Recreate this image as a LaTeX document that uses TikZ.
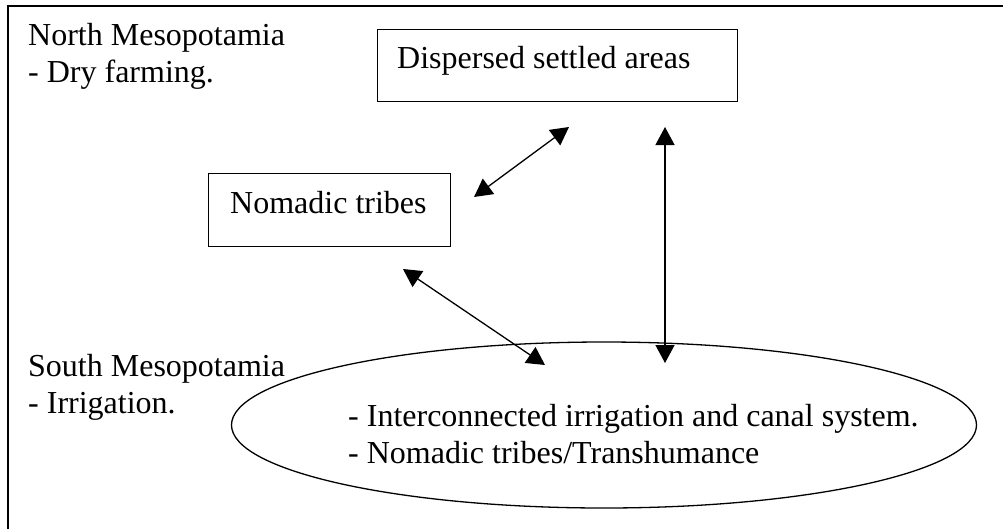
\documentclass[tikz,border=0pt]{standalone}
\usepackage{fontspec}
\setmainfont{Liberation Serif}
\usetikzlibrary{arrows.meta,shapes.geometric}
\begin{document}
\begin{tikzpicture}[x=1pt,y=-1pt,
  txt/.style={inner sep=0pt,font=\fontsize{32}{36.5}\selectfont,align=left},
  boxnode/.style={draw,line width=1.4pt,inner sep=0pt,anchor=north west},
  link/.style={line width=1.3pt,{Triangle[length=18pt,width=19pt]}-{Triangle[length=18pt,width=19pt]}}]
  \useasboundingbox (0,0) rectangle (1003,528);
  % outer frame (runs off the right and bottom edges)
  \draw[line width=2pt] (8,530) -- (8,6) -- (1005,6);

  % region labels (anchored at the baseline of their last line)
  \node[txt,anchor=base west] (north) at (28,82) {North Mesopotamia\\- Dry farming.};
  \node[txt,anchor=base west] (south) at (28,413) {South Mesopotamia\\- Irrigation.};

  % boxes
  \node[boxnode,minimum width=360pt,minimum height=72pt] (settled) at (377,29) {};
  \node[txt,anchor=base west] (settledtxt) at (397,68) {Dispersed settled areas};
  \node[boxnode,minimum width=242pt,minimum height=73pt] (nomad) at (208,173) {};
  \node[txt,anchor=base west] (nomadtxt) at (230,213) {Nomadic tribes};

  % southern irrigation system
  \node[draw,ellipse,line width=1.3pt,minimum width=745pt,minimum height=166pt,inner sep=0pt] (south-sys) at (604,425) {};
  \node[txt,anchor=base west] (systxt) at (348,463) {- Interconnected irrigation and canal system.\\- Nomadic tribes/Transhumance};

  % connector end points
  \coordinate (n-ne) at (474,197);
  \coordinate (s-sw) at (569,127);
  \coordinate (s-s) at (665,127);
  \coordinate (e-n) at (665,363);
  \coordinate (n-se) at (403,269);
  \coordinate (e-nw) at (545,365);

  \draw[link] (n-ne) -- (s-sw);
  \draw[link] (s-s) -- (e-n);
  \draw[link] (n-se) -- (e-nw);
\end{tikzpicture}
\end{document}
